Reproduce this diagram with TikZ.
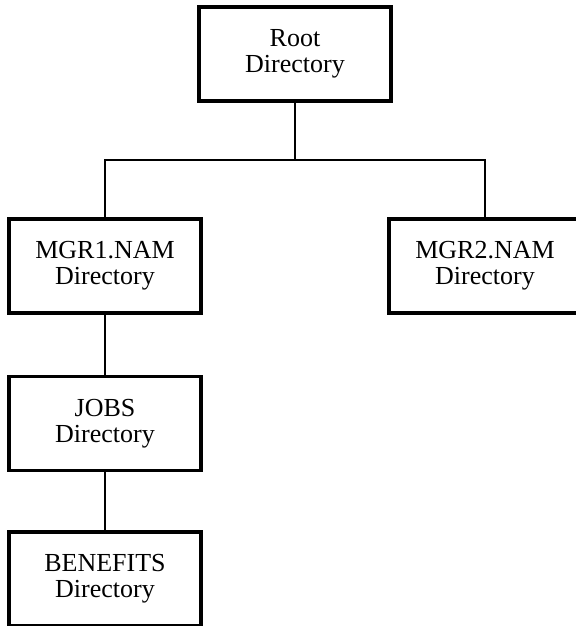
\documentclass[tikz,border=0pt]{standalone}
\usepackage{fontspec}
\setmainfont{Liberation Serif}
\usepackage{tikz}
\usetikzlibrary{positioning}

\begin{document}
\begin{tikzpicture}
[
x=0.5pt, y=-0.5pt,
dir/.style={rectangle, draw=black, line width=1.75pt, minimum width=96pt, minimum height=47pt, align=center, font=\fontsize{13}{13}\selectfont},
link/.style={draw=black, line width=1.1pt}
]
\useasboundingbox (0,0) rectangle (575,626);
%Nodes
\node[dir]          (root)                          at (295,54)     {Root\\Directory};
\node[dir]          (mgr1)                          at (105,266)    {MGR1.NAM\\Directory};
\node[dir]          (mgr2)                          at (485,266)    {MGR2.NAM\\Directory};
\node[dir]          (jobs)      [below=30pt of mgr1]                {JOBS\\Directory};
\node[dir]          (benefits)  [below=29pt of jobs]                {BENEFITS\\Directory};
\coordinate         (bus)                           at (295,160);

%Lines
\draw[link] (root.south) -- (bus);
\draw[link] (mgr1.north) |- (bus) -| (mgr2.north);
\draw[link] (mgr1.south) -- (jobs.north);
\draw[link] (jobs.south) -- (benefits.north);
\end{tikzpicture}
\end{document}
